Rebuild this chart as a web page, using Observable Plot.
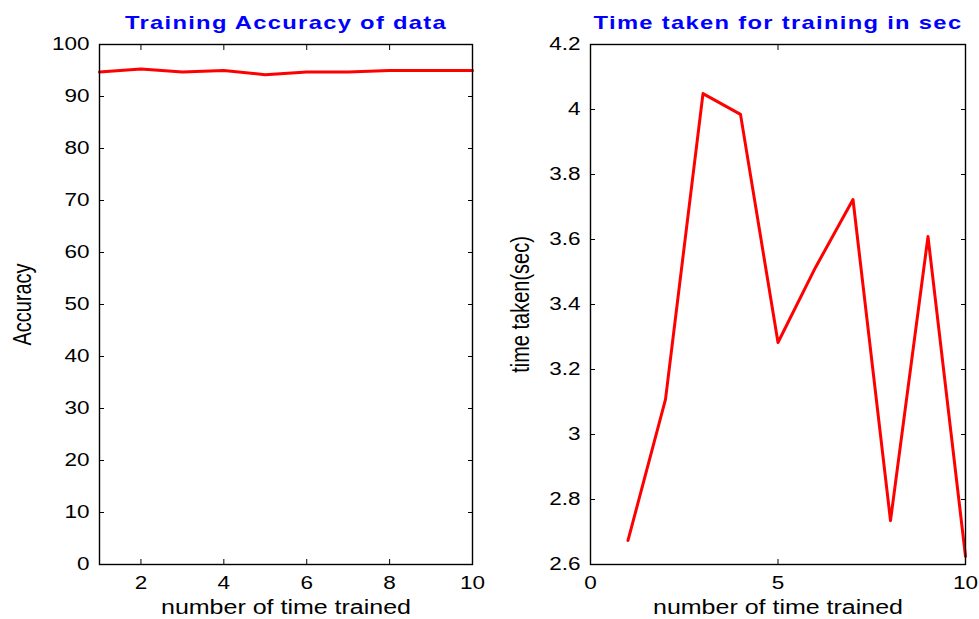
<!DOCTYPE html>
<html>
<head>
<meta charset="utf-8">
<script src="https://cdn.jsdelivr.net/npm/d3@7"></script>
<script src="https://cdn.jsdelivr.net/npm/@observablehq/plot@0.6"></script>
<style>
  html, body { margin: 0; padding: 0; background: #fff; }
  #wrap { position: relative; width: 979px; height: 619px; overflow: hidden; }
  #wrap > div, #wrap > svg { position: absolute; top: 0; }
  svg { font-family: "Liberation Sans", Arial, Helvetica, sans-serif; }
</style>
</head>
<body>
<div id="wrap"></div>
<script>
const trials = [1, 2, 3, 4, 5, 6, 7, 8, 9, 10];
const accuracy = [94.7, 95.3, 94.7, 95.0, 94.2, 94.7, 94.7, 95.0, 95.0, 95.0];
const timeTaken = [2.674, 3.108, 4.049, 3.985, 3.283, 3.514, 3.723, 2.735, 3.609, 2.625];

const accTicksX = [2, 4, 6, 8, 10];
const accTicksY = [0, 10, 20, 30, 40, 50, 60, 70, 80, 90, 100];
const timeTicksX = [0, 5, 10];
const timeTicksY = [2.6, 2.8, 3.0, 3.2, 3.4, 3.6, 3.8, 4.0, 4.2];

const titles = ["Training Accuracy of data", "Time taken for training in sec"];
const yLabels = ["Accuracy", "time taken(sec)"];
const xLabel = "number of time trained";

const accData = trials.map((t, i) => ({trial: t, value: accuracy[i]}));
const timeData = trials.map((t, i) => ({trial: t, value: timeTaken[i]}));

const fmt = d => String(+(+d).toFixed(1));
const blank = () => "";

function panel({data, xDomain, yDomain, xTicks, yTicks, title, ylabel, marginLeft, marginRight, width, ylabelDx}) {
  return Plot.plot({
    width, height: 619,
    marginLeft, marginRight, marginTop: 44, marginBottom: 55,
    x: {domain: xDomain},
    y: {domain: yDomain},
    style: {fontSize: "18px", color: "#000", background: "transparent"},
    marks: [
      Plot.line(data, {x: "trial", y: "value", stroke: "#ff0000", strokeWidth: 3}),
      Plot.frame({stroke: "#000", strokeWidth: 1.4}),
      Plot.axisY({anchor: "left", ticks: yTicks, tickSize: 0, tickPadding: 10, tickFormat: fmt, label: null, fontSize: 18}),
      Plot.axisY({anchor: "left", ticks: yTicks, tickSize: -5, tickFormat: blank, label: null}),
      Plot.axisY({anchor: "right", ticks: yTicks, tickSize: -5, tickFormat: blank, label: null}),
      Plot.axisX({anchor: "bottom", ticks: xTicks, tickSize: 0, tickPadding: 12, tickFormat: fmt, label: null, fontSize: 18}),
      Plot.axisX({anchor: "bottom", ticks: xTicks, tickSize: -5, tickFormat: blank, label: null}),
      Plot.axisX({anchor: "top", ticks: xTicks, tickSize: -5, tickFormat: blank, label: null}),
      Plot.text([title], {text: d => d, frameAnchor: "top", lineAnchor: "middle", dy: -22, fill: "#0000ff", fontWeight: "bold", fontSize: 19}),
      Plot.text([xLabel], {text: d => d, frameAnchor: "bottom", lineAnchor: "middle", dy: 43, fill: "#000", fontSize: 20}),
      Plot.text([ylabel], {text: d => d, frameAnchor: "left", textAnchor: "middle", lineAnchor: "middle", rotate: -90, dx: ylabelDx, fill: "#000", fontSize: 20})
    ]
  });
}

// The reference picture is stretched horizontally: widen every text about its anchor.
function stretch(svg) {
  svg.querySelectorAll("text").forEach(t => {
    const content = t.textContent;
    if (!content) return;
    let s = 1.25;
    if (yLabels.includes(content)) s = 1.32;
    if (titles.includes(content)) t.style.letterSpacing = "1.05px";
    const tr = t.getAttribute("transform") || "";
    const m = tr.match(/^\s*translate\(([^)]*)\)(.*)$/);
    if (m) {
      t.setAttribute("transform", `translate(${m[1]}) scale(${s},1)${m[2]}`);
    } else {
      const x = +(t.getAttribute("x") || 0), y = +(t.getAttribute("y") || 0);
      t.setAttribute("transform", `translate(${x},${y}) scale(${s},1) translate(${-x},${-y}) ${tr}`);
    }
  });
}

const left = panel({
  data: accData, xDomain: [1, 10], yDomain: [0, 100], xTicks: accTicksX, yTicks: accTicksY,
  title: titles[0], ylabel: yLabels[0],
  marginLeft: 99, marginRight: 18, width: 490, ylabelDx: -77
});
const right = panel({
  data: timeData, xDomain: [0, 10], yDomain: [2.6, 4.2], xTicks: timeTicksX, yTicks: timeTicksY,
  title: titles[1], ylabel: yLabels[1],
  marginLeft: 100, marginRight: 14, width: 489, ylabelDx: -70
});
stretch(left);
stretch(right);
left.style.left = "0px";
right.style.left = "490px";
const wrap = document.getElementById("wrap");
wrap.appendChild(left);
wrap.appendChild(right);
</script>
</body>
</html>
